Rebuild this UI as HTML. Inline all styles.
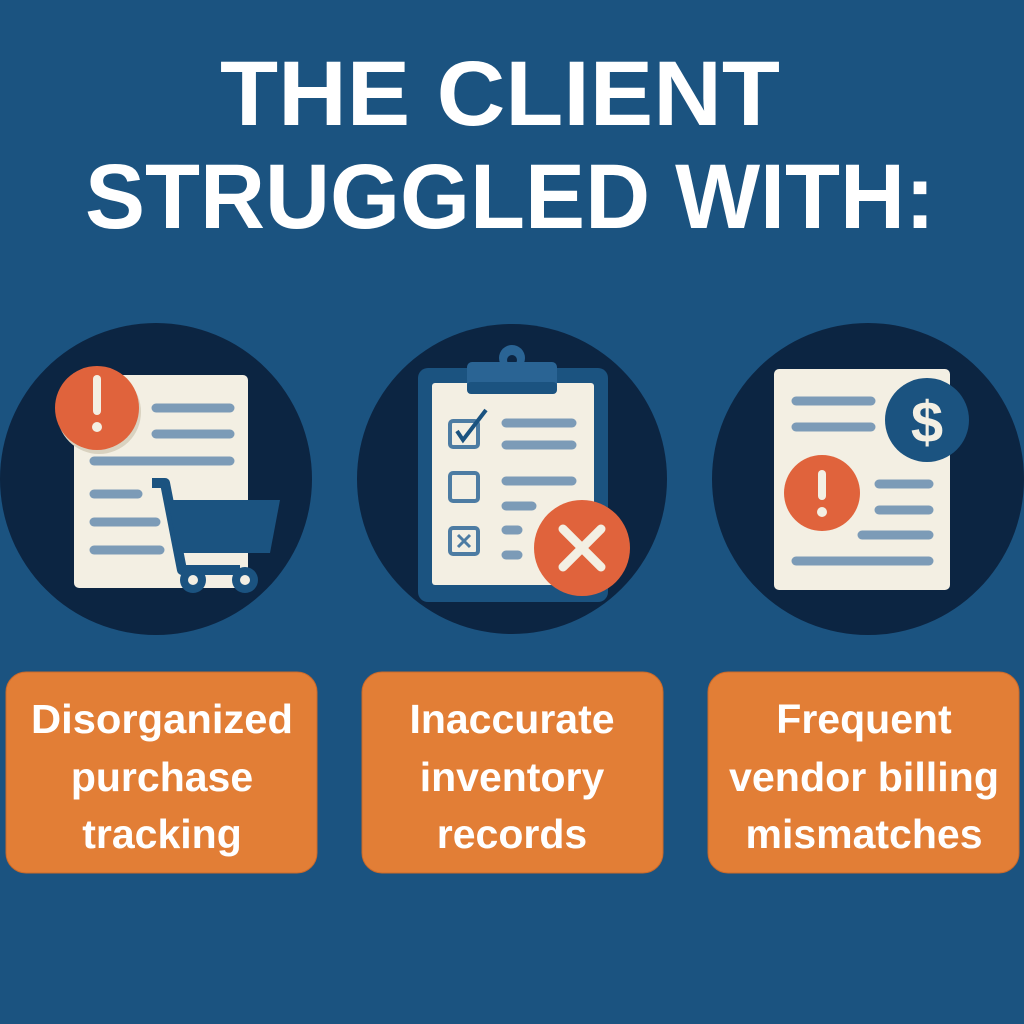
<!DOCTYPE html>
<html><head><meta charset="utf-8"><style>html,body{margin:0;padding:0;background:#1b5380;}svg{display:block}</style></head>
<body>
<svg width="1024" height="1024" viewBox="0 0 1024 1024" xmlns="http://www.w3.org/2000/svg" font-family="Liberation Sans, sans-serif">
<rect width="1024" height="1024" fill="#1b5380"/>
<g fill="#ffffff" font-weight="bold" font-size="92">
<text x="500" y="125" text-anchor="middle" textLength="560" lengthAdjust="spacingAndGlyphs">THE CLIENT</text>
<text x="510" y="228" text-anchor="middle" textLength="850" lengthAdjust="spacingAndGlyphs">STRUGGLED WITH:</text>
</g>
<!-- circles -->
<circle cx="156" cy="479" r="156" fill="#0c2542"/>
<circle cx="512" cy="479" r="155" fill="#0c2542"/>
<circle cx="868" cy="479" r="156" fill="#0c2542"/>
<!-- left doc -->
<rect x="74" y="375" width="174" height="213" rx="5" fill="#f3efe3"/>
<g stroke="#7c9bb7" stroke-width="9" stroke-linecap="round">
<line x1="156" y1="408" x2="230" y2="408"/><line x1="156" y1="434" x2="230" y2="434"/>
<line x1="94" y1="461" x2="230" y2="461"/><line x1="94" y1="494" x2="138" y2="494"/>
<line x1="94" y1="522" x2="156" y2="522"/><line x1="94" y1="550" x2="160" y2="550"/>
</g>
<circle cx="99" cy="412" r="42" fill="#d9d2c0"/>
<circle cx="97" cy="408" r="42" fill="#e0633c"/>
<rect x="93" y="375" width="8" height="40" rx="4" fill="#f3efe3"/><circle cx="97" cy="427" r="5" fill="#f3efe3"/>
<!-- cart -->
<path d="M152 483 L165 483 L182 570 L240 570" fill="none" stroke="#1b5380" stroke-width="10" stroke-linejoin="round"/>
<path d="M168 500 L280 500 L270 553 L178 553 Z" fill="#1b5380"/>
<circle cx="193" cy="580" r="13" fill="#1b5380"/><circle cx="193" cy="580" r="5" fill="#f3efe3"/>
<circle cx="245" cy="580" r="13" fill="#1b5380"/><circle cx="245" cy="580" r="5" fill="#f3efe3"/>
<!-- clipboard -->
<rect x="418" y="368" width="190" height="234" rx="10" fill="#1b5380"/>
<rect x="432" y="383" width="162" height="202" rx="3" fill="#f3efe3"/>
<circle cx="512" cy="358" r="13" fill="#2a6494"/><circle cx="512" cy="360" r="5" fill="#0c2542"/>
<rect x="467" y="362" width="90" height="30" rx="5" fill="#2a6494"/>
<rect x="467" y="382" width="90" height="12" rx="4" fill="#1b5380"/>
<g fill="none" stroke="#4d7ca3" stroke-width="4">
<rect x="450" y="421" width="28" height="26" rx="3"/>
<rect x="450" y="473" width="28" height="28" rx="3"/>
<rect x="450" y="528" width="28" height="26" rx="3"/>
</g>
<path d="M457 431 L463 440 L486 410" fill="none" stroke="#1b5380" stroke-width="4"/>
<path d="M458 535 L470 547 M470 535 L458 547" stroke="#4d7ca3" stroke-width="3"/>
<g stroke="#7c9bb7" stroke-width="9" stroke-linecap="round">
<line x1="506" y1="423" x2="572" y2="423"/><line x1="506" y1="445" x2="572" y2="445"/>
<line x1="506" y1="481" x2="572" y2="481"/><line x1="506" y1="506" x2="532" y2="506"/>
<line x1="506" y1="530" x2="518" y2="530"/><line x1="506" y1="555" x2="518" y2="555"/>
</g>
<circle cx="582" cy="548" r="48" fill="#e0633c"/>
<path d="M563 529 L601 567 M601 529 L563 567" stroke="#f3efe3" stroke-width="9" stroke-linecap="round"/>
<!-- right doc -->
<rect x="774" y="369" width="176" height="221" rx="5" fill="#f3efe3"/>
<g stroke="#7c9bb7" stroke-width="9" stroke-linecap="round">
<line x1="796" y1="401" x2="871" y2="401"/><line x1="796" y1="427" x2="871" y2="427"/>
<line x1="879" y1="484" x2="929" y2="484"/><line x1="879" y1="510" x2="929" y2="510"/>
<line x1="862" y1="535" x2="929" y2="535"/><line x1="796" y1="561" x2="929" y2="561"/>
</g>
<circle cx="927" cy="420" r="42" fill="#1b5380"/>
<text x="927" y="442" text-anchor="middle" font-size="58" font-weight="bold" fill="#f3efe3">$</text>
<circle cx="822" cy="493" r="38" fill="#e0633c"/>
<rect x="818" y="470" width="8" height="30" rx="4" fill="#f3efe3"/><circle cx="822" cy="512" r="5" fill="#f3efe3"/>
<!-- boxes -->
<g fill="#e27e36" stroke="#c9692a" stroke-width="1">
<rect x="6" y="672" width="311" height="201" rx="20"/>
<rect x="362" y="672" width="301" height="201" rx="20"/>
<rect x="708" y="672" width="311" height="201" rx="20"/>
</g>
<g fill="#ffffff" font-weight="bold" font-size="41" text-anchor="middle">
<text x="162" y="733" textLength="262" lengthAdjust="spacingAndGlyphs">Disorganized</text>
<text x="162" y="791">purchase</text>
<text x="162" y="848">tracking</text>
<text x="512" y="733">Inaccurate</text>
<text x="512" y="791">inventory</text>
<text x="512" y="848">records</text>
<text x="864" y="733">Frequent</text>
<text x="864" y="791" textLength="270" lengthAdjust="spacingAndGlyphs">vendor billing</text>
<text x="864" y="848">mismatches</text>
</g>
</svg>
</body></html>
